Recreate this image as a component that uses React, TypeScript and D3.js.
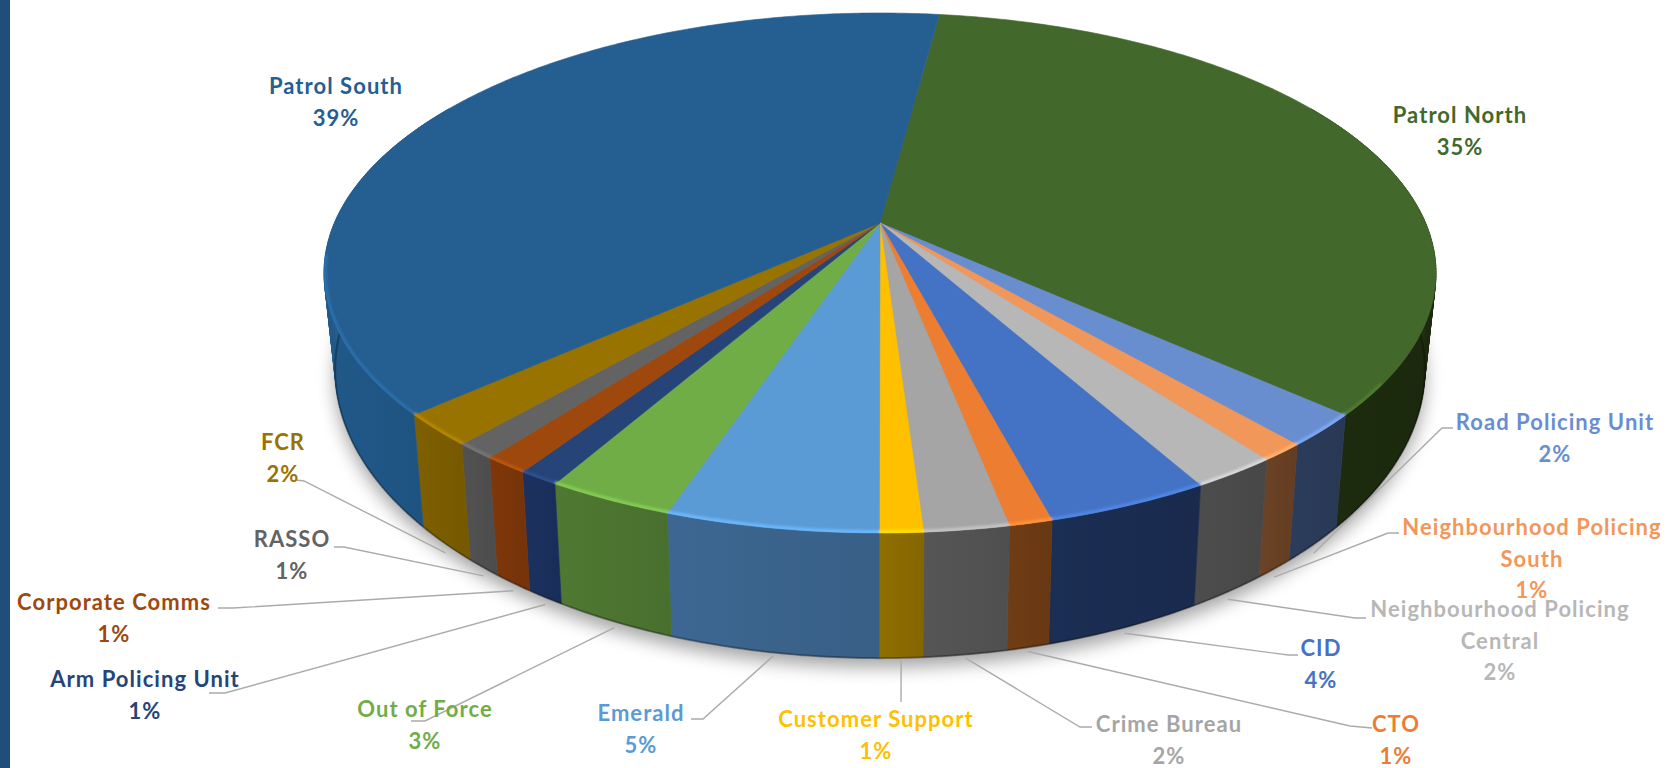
import React, { useMemo } from "react";
import * as d3 from "d3";

// Department shares of the total, in percent, clockwise from the top seam
const categories = [
  "Patrol North", "Road Policing Unit", "Neighbourhood Policing South", "Neighbourhood Policing Central",
  "CID", "CTO", "Crime Bureau", "Customer Support", "Emerald", "Out of Force",
  "Arm Policing Unit", "Corporate Comms", "RASSO", "FCR", "Patrol South",
];
const shares = [34.6, 2.0, 1.1, 2.1, 4.0, 1.05, 2.05, 1.05, 5.15, 3.1, 1.0, 1.1, 1.0, 2.0, 38.7];

const topColors = [
  "#43682b", "#698ed0", "#f1975a", "#b7b7b7", "#4472c4", "#ed7d31", "#a5a5a5", "#ffc000",
  "#5b9bd5", "#70ad47", "#264478", "#9e480e", "#636363", "#997300", "#255e91",
];
const wallColors = [
  "#1c2a0e", "#2a3a58", "#674024", "#4a4a4a", "#1a2c50", "#6b3a14", "#525252", "#8a6a00",
  "#3a638c", "#4c7430", "#1a2f5c", "#7a3509", "#4f4f4f", "#7a5c00", "#1f5583",
];

// Label centres (first line) and the leader's bends, running from the pie outwards
const labelSpots: [number, number][] = [
  [1460, 114], [1555, 421], [1532, 526], [1500, 608], [1321, 647], [1396, 723], [1169, 723], [876, 718],
  [641, 712], [425, 708], [145, 678], [114, 601], [292, 538], [283, 441], [336, 85],
];
const leaderBends: [number, number][][] = [
  [], [[1442, 428], [1453, 428]], [[1388, 533], [1399, 533]], [[1355, 618], [1366, 618]],
  [[1288, 655], [1298, 655]], [[1350, 726], [1372, 728]], [[1080, 727], [1092, 727]], [[901, 702]],
  [[703, 719], [691, 719]], [[425, 721], [411, 721]], [[225, 693], [209, 693]], [[233, 608], [218, 608]],
  [[344, 547], [334, 547]], [[304, 481], [296, 480]], [],
];

const WIDTH = 1674;
const HEIGHT = 768;
const CX = 880;
const CY = 223;
const RADIUS = 545.6;
const FORESHORTEN = 250.4;
const PERSPECTIVE = 0.1923;
const START = (7.44 * Math.PI) / 180;
const WALL_FROM = (60 * Math.PI) / 180;
const WALL_TO = (300 * Math.PI) / 180;
const BEVEL_FROM = (125 * Math.PI) / 180;
const BEVEL_TO = (263 * Math.PI) / 180;
const LINE_GAP = 31.5;
const FONT = "Lato, 'Noto Sans', sans-serif";

type Pt = [number, number];

// Tilted disc seen in perspective: angle is clockwise from the far edge
const rimPoint = (t: number): Pt => {
  const X = Math.sin(t);
  const Y = -Math.cos(t);
  const w = 1 - PERSPECTIVE * Y;
  return [CX + (RADIUS * X) / w, CY + (FORESHORTEN * Y) / w];
};
const depthAt = d3.scaleLinear().domain([413, 532]).range([112, 125]);
const lowerPoint = ([x, y]: Pt): Pt => [CX + (x - CX) * 0.98, y + depthAt(y)];

const sampleAngles = (a: number, b: number): number[] => {
  const n = Math.max(2, Math.ceil((b - a) / 0.01));
  return d3.range(n + 1).map((i) => a + ((b - a) * i) / n);
};

const linePath = d3.line<Pt>();

const wrapName = (name: string): string[] =>
  name.startsWith("Neighbourhood Policing ")
    ? ["Neighbourhood Policing", name.slice("Neighbourhood Policing ".length)]
    : [name];

const percent = d3.format(".0f");

export default function App() {
  const slices = useMemo(() => {
    const arcs = d3.pie<number>().sort(null).startAngle(START).endAngle(START + 2 * Math.PI)(shares);
    return arcs.map((arc) => {
      const i = arc.index;
      const rim = sampleAngles(arc.startAngle, arc.endAngle).map(rimPoint);
      const top = linePath([[CX, CY], ...rim]) + "Z";

      const a = Math.max(arc.startAngle, WALL_FROM);
      const b = Math.min(arc.endAngle, WALL_TO);
      const visible = sampleAngles(a, b);
      const wall = d3
        .pairs(visible)
        .map(([p, q]) => {
          const p0 = rimPoint(p);
          const q0 = rimPoint(q);
          return linePath([p0, q0, lowerPoint(q0), lowerPoint(p0)]) + "Z";
        })
        .join("");
      const foot = linePath(visible.map((t) => lowerPoint(rimPoint(t)))) ?? "";
      const ba = Math.max(arc.startAngle, BEVEL_FROM);
      const bb = Math.min(arc.endAngle, BEVEL_TO);
      const edge = bb > ba ? linePath(sampleAngles(ba, bb).map(rimPoint)) ?? "" : "";

      const mid = (arc.startAngle + arc.endAngle) / 2;
      const base = lowerPoint(rimPoint(mid));
      const gap = 2 + 10 * Math.abs(Math.sin(mid));
      const anchor: Pt = [base[0], base[1] + gap];
      const leader = leaderBends[i].length ? linePath([anchor, ...leaderBends[i]]) : null;

      return {
        i, top, wall, edge, foot, leader, frontFacing: b > a,
        lines: [...wrapName(categories[i]), `${percent(shares[i])}%`],
      };
    });
  }, []);

  const footprint = useMemo(
    () => linePath(sampleAngles(0, 2 * Math.PI).map((t) => lowerPoint(rimPoint(t)))) + "Z",
    [],
  );
  const disc = useMemo(() => linePath(sampleAngles(0, 2 * Math.PI).map(rimPoint)) + "Z", []);

  return (
    <svg
      width={WIDTH}
      height={HEIGHT}
      viewBox={`0 0 ${WIDTH} ${HEIGHT}`}
      style={{ position: "absolute", left: 0, top: 0, display: "block", background: "#fff" }}
    >
      <defs>
        <filter id="ground" filterUnits="userSpaceOnUse" x="0" y="0" width={WIDTH} height={HEIGHT}>
          <feGaussianBlur stdDeviation="9" />
        </filter>
        <filter id="bevel" filterUnits="userSpaceOnUse" x="0" y="0" width={WIDTH} height={HEIGHT}>
          <feGaussianBlur stdDeviation="1" />
        </filter>
        <clipPath id="disc">
          <path d={disc} />
        </clipPath>
        {slices.map((s) => (
          <linearGradient key={s.i} id={`wall-${s.i}`} x1="0" x2="1" y1="0" y2="0">
            <stop offset="0" stopColor={d3.color(wallColors[s.i])!.brighter(0.12).formatHex()} />
            <stop offset="1" stopColor={d3.color(wallColors[s.i])!.darker(0.12).formatHex()} />
          </linearGradient>
        ))}
      </defs>

      <rect x={0} y={0} width={10} height={HEIGHT} fill="#1f4e79" />

      <path d={footprint} transform="translate(0,9)" fill="#000" opacity={0.36} filter="url(#ground)" />

      <g>
        {slices.filter((s) => s.frontFacing).map((s) => (
          <path key={s.i} d={s.wall} fill={`url(#wall-${s.i})`} stroke={`url(#wall-${s.i})`} strokeWidth={0.6} />
        ))}
      </g>
      <g fill="none">
        {slices.filter((s) => s.frontFacing).map((s) => (
          <path key={s.i} d={s.foot} stroke="#000" strokeOpacity={0.3} strokeWidth={2} />
        ))}
      </g>
      <g>
        {slices.map((s) => (
          <path key={s.i} d={s.top} fill={topColors[s.i]} stroke={topColors[s.i]} strokeWidth={0.6} />
        ))}
      </g>
      <g clipPath="url(#disc)">
        <g fill="none" filter="url(#bevel)">
          {slices.filter((s) => s.edge).map((s) => (
            <path
              key={s.i}
              d={s.edge}
              stroke={d3.color(topColors[s.i])!.brighter(0.45).formatHex()}
              strokeWidth={6}
            />
          ))}
        </g>
      </g>

      <g fill="none" stroke="#ababab" strokeWidth={1.4}>
        {slices.filter((s) => s.leader).map((s) => (
          <path key={s.i} d={s.leader!} />
        ))}
      </g>

      <g
        fontFamily={FONT}
        fontWeight={700}
        fontSize={22}
        letterSpacing={1.05}
        textAnchor="middle"
        dominantBaseline="central"
      >
        {slices.map((s) => (
          <text key={s.i} fill={topColors[s.i]}>
            {s.lines.map((line, j) => (
              <tspan key={j} x={labelSpots[s.i][0]} y={labelSpots[s.i][1] + j * LINE_GAP}>
                {line}
              </tspan>
            ))}
          </text>
        ))}
      </g>
    </svg>
  );
}
